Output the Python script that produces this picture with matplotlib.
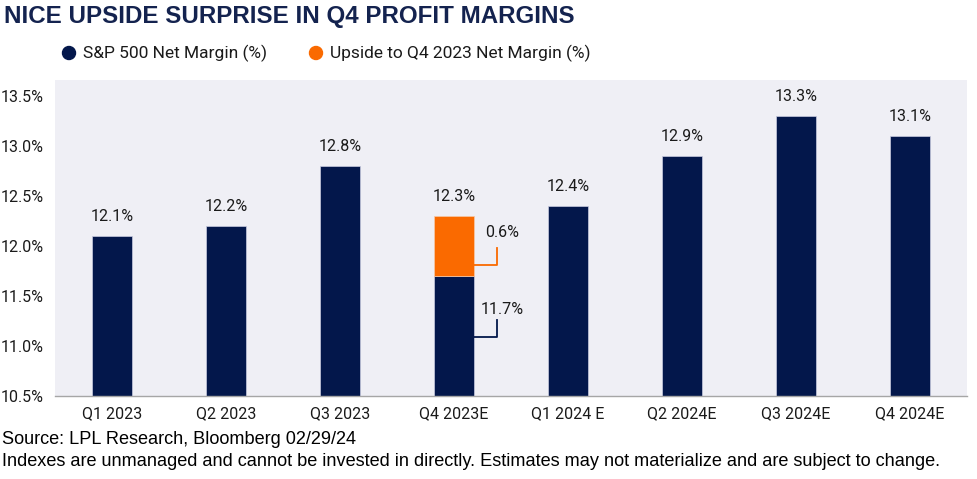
import matplotlib.pyplot as plt
from matplotlib.patches import Ellipse
import numpy as np

# chart data
categories = ["Q1 2023", "Q2 2023", "Q3 2023", "Q4 2023E",
              "Q1 2024 E", "Q2 2024E", "Q3 2024E", "Q4 2024E"]
net_margin = [12.1, 12.2, 12.8, 11.7, 12.4, 12.9, 13.3, 13.1]
upside = [0, 0, 0, 0.6, 0, 0, 0, 0]
top_labels = ["12.1%", "12.2%", "12.8%", "12.3%", "12.4%", "12.9%", "13.3%", "13.1%"]
yticks = [10.5, 11.0, 11.5, 12.0, 12.5, 13.0, 13.5]

NAVY = "#03174B"
ORANGE = "#FA6A00"
BG = "#EFEFF5"
TXT = "#1a1a1a"
W, H = 978, 479

plt.rcParams['font.family'] = ['Roboto', 'DejaVu Sans']

fig = plt.figure(figsize=(W / 100, H / 100), dpi=100)
ax = fig.add_axes([0.0562, 0.1733, 0.9325, 0.660])
ax.set_facecolor(BG)

x = np.arange(len(categories))
w = 0.35
ax.bar(x, net_margin, width=w, color=NAVY, edgecolor="#c9cce0", linewidth=0.5,
       zorder=2)
tops = np.array(net_margin) + np.array(upside)
has_up = np.array(upside) > 0
ax.bar(x[has_up], np.array(upside)[has_up], width=w,
       bottom=np.array(net_margin)[has_up], color=ORANGE,
       edgecolor="#f6c9a8", linewidth=0.5, zorder=2)

for xi, t, lab in zip(x, tops, top_labels):
    ax.text(xi, t + 0.12, lab, ha="center", va="bottom", fontsize=11.5,
            color=TXT)

# bracket annotations on the Q4 2023E bar
i = categories.index("Q4 2023E")
xr = i + w / 2
xb = i + 0.377
base = net_margin[i]
ax.plot([xr, xb, xb], [base + 0.11, base + 0.11, base + 0.28],
        color=ORANGE, lw=1.3, zorder=3)
ax.text(i + 0.42, base + 0.43, "{:.1f}%".format(upside[i]), ha="center",
        va="center", fontsize=11.5, color=TXT)
ax.plot([xr, xb, xb], [base - 0.61, base - 0.61, base - 0.44],
        color=NAVY, lw=1.3, zorder=3)
ax.text(i + 0.42, base - 0.34, "{:.1f}%".format(base), ha="center",
        va="center", fontsize=11.5, color=TXT)

ax.set_xlim(-0.5, len(categories) - 0.5)
ax.set_ylim(10.5, 13.66)
ax.set_yticks(yticks)
ax.set_yticklabels(["{:.1f}%".format(v) for v in yticks])
ax.set_xticks(x)
ax.set_xticklabels(categories)
ax.tick_params(axis="y", length=0, pad=8, labelsize=11.5, labelcolor=TXT)
ax.tick_params(axis="x", length=0, pad=7, labelsize=11.5, labelcolor=TXT)
for s in ["top", "right", "left"]:
    ax.spines[s].set_visible(False)
ax.spines["bottom"].set_color("#a6a6a6")
ax.spines["bottom"].set_linewidth(1.0)

# title and legend
fig.text(0.004, 1 - 16 / H, "NICE UPSIDE SURPRISE IN Q4 PROFIT MARGINS",
         family="Liberation Sans", fontweight="bold", fontsize=17.4,
         color="#14234F", va="center", ha="left")
ly = 1 - 53 / H
for cx, col, tx, lab in [(69, NAVY, 83, "S&P 500 Net Margin (%)"),
                         (316, ORANGE, 330, "Upside to Q4 2023 Net Margin (%)")]:
    fig.patches.append(Ellipse((cx / W, ly), 13 / W, 13 / H,
                               transform=fig.transFigure, color=col,
                               figure=fig))
    fig.text(tx / W, ly, lab, fontsize=12.5, color=TXT, va="center",
             ha="left")

# footnotes
fig.text(0.002, 1 - 439 / H, "Source: LPL Research, Bloomberg 02/29/24",
         family="Liberation Sans", fontsize=13.1, color="black", va="center")
fig.text(0.002, 1 - 462 / H,
         "Indexes are unmanaged and cannot be invested in directly. "
         "Estimates may not materialize and are subject to change.",
         family="Liberation Sans", fontsize=13.1, color="black", va="center")

fig.savefig("out.png", dpi=100, facecolor="white")
